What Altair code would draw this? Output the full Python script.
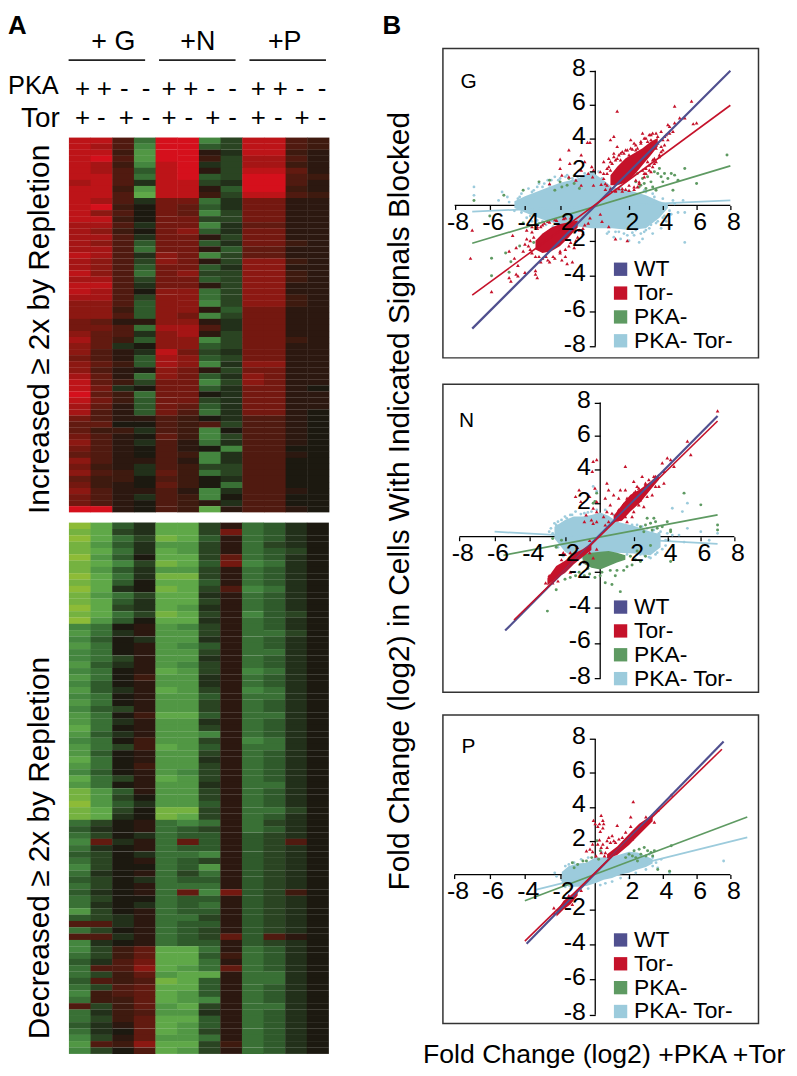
import altair as alt
import pandas as pd

W, H = 786, 1066
FONT = "Liberation Sans"
SERIES = ["WT", "Tor-", "PKA-", "PKA- Tor-"]
COLORS = ["#50508f", "#c5122a", "#5e9a62", "#9ccbdc"]

heat_up = [
"883d99eb8832","873e99cb8832","882f991a8821","893f992b7731","872e89ab7721","873c891b8841",
"883d89cb9932","783a88ba9931","882f881c9921","883g882b8832","873a55da5511","892054ca5511",
"863054eb5511","882055bb5511","773a55ea4411","762056ca5511","773a551b5511","763c55ca5521",
"773d551c4411","873a65eb4411","763b651b6621","763c55ca6611","863d56bb6621","773b55cb6621",
"883a551b6611","873066db6611","773b66db6621","663c66eb6621","662c661c5511","663c65eb5511",
"5411661a5511","553d773a5511","643a671b5511","742c66eb5521","64a066cb5511","631a85ba5511",
"531c76cb5511","642c76ea6611","6310651b5511","741d65ca6511","842b55eb6511","85a055ca5510",
"942d550a5511","852c55ba5511","741c54ca5511","731c53da5510","5311320a3310","4400323b3310",
"422a32e03310","531042eb3310","631a31da3310","5310310e3300","431032ea3310","631131ea3300",
"521a32bb3300","632a42db3300","4220320a3300","5210420d3300","631131ea3310","531a32e03300",
"5310321a3300","991032g13310",
]

heat_down = [
"igcaggb1dca0","hgbaggb5dca0","igdbhgc1dca0","hfcaffb1dba0","hgdagfb1dcb0","ifc0ggb4dca0",
"hgebhgc5eda0","hfcaffb1dca0","igdahhb1dca0","hgc0ggc1dca0","iga0hgb3eda0","hfdbgga1dca0",
"hgcaggb1dca0","igbagfa1dca0","hgdbhgb1ecb0","ifc0gga1dca0","ed01feb1dca0","fda1ffb1ddb0",
"ec0affa1dca0","fd01fec1dca0","ed01ffb1dda0","edb1ffa1dca0","fca1feb1dca0","ed01gfb1eda0",
"fd02ffa1dca0","ec01ffa1dca0","fca1gfb1eda0","ed01ffc1dda0","fd01ffb1dca0","ecb1ffb1dca0",
"fd02ggc1dda0","fda1ffa1dca0","gd01ffb1dca0","fca1ffe1dca0","ed02ffb1eda0","fdb2gfc1dda0",
"fc01ffb1dca0","gd01ffa1dca0","fd02ffb1dca0","ec01feb1dca0","gdb1gfb1dca0","fd01ffa1dda0",
"hfc1ffb1dca0","hfb0ffb1dca0","ifcaffc1dca0","hgb0hhb1ddb0","hga0hgb1dca0","db01ded1dba0",
"ca01dcb1dca0","db0adcc1cba0","e4a1d4c1cb30","da01dcc1cba0","cb0adde1cba0","db01dcb1cba0",
"eb00dcf1cba0","da01dbd1cba0","cb0adcc1cba0","db01ddd1cba0","ca01d4e5cb20","db00dcc1cba0",
"da0adcd1cba0","fb01dcc1cba0","cba1ddb1cba0","33a1dcc1cba0","db01dcb1cba0","33a1dcb4c310",
"ea01dcc1cba0","eb24ggd1dca0","db24ggc2dca0","ca35ggd1dca0","d336gfd4dca0","db24fgg1dda0",
"c323hgc1dda0","db34ggc1dca0","e234gfc1dca0","d224gfe1dca0","3b24fgb1dda0","da23ffa1dca0",
"db24ggc1dca0","ca14gfc1dca0","da04gfb1dca0","eb14ffd1dca0","f326ggb2dca0","eb03gfb1dca0",
]

lines_G = {"WT":[(-7,-7),(8,8)],"Tor-":[(-7,-5.1),(8,5.95)],"PKA-":[(-7,-2.15),(8,2.35)],"PKA- Tor-":[(-7,-0.35),(8,0.3)]}
lines_N = {"WT":[(-5.4,-5.3),(7,7.2)],"Tor-":[(-4.9,-4.7),(7,6.9)],"PKA-":[(-5.5,-1.05),(7,1.3)],"PKA- Tor-":[(-6,0.3),(7,-0.4)]}
lines_P = {"WT":[(-3.9,-3.95),(7.6,7.85)],"Tor-":[(-4,-3.8),(7.5,7.4)],"PKA-":[(-4,-1.5),(9,3.4)],"PKA- Tor-":[(-3.4,-0.87),(9,2.2)]}

blue_core_G = [(-4.6,-.15,.25),(-4,-.4,.55),(-3,-.8,.95),(-2,-1.1,1.35),(-1,-1.2,1.6),(-.2,-1.3,2),(.5,-1.3,1.5),(1,-1.3,1.1),(2,-1.4,.9),(3,-1.3,.6),(3.8,-.7,.25),(4.3,-.15,.1)]
red_core_G = [[(.9,1.2,1.8),(1.3,1.2,2.3),(1.8,1.35,2.8),(2.3,1.8,3.1),(2.8,2.4,3.4),(3.3,3,3.8),(3.7,3.5,4)],
              [(-3.4,-2.5,-2),(-3,-2.7,-1.6),(-2.5,-2.6,-1.25),(-2,-2.3,-1.05),(-1.5,-1.8,-.95),(-1,-1.25,-.85)]]
red_G = [(-.44,3.75),(-.3,3.75),(-1.5,3.3),(-.8,3),(-2,2.75),(-1.45,2.5),(-.6,2.6),(-.2,2.3),(-.1,2.1),(-.8,2.1),(-1.9,1.8),(-2,2.2),(-1.5,1.7),(-1.1,1.5),(-.4,1.9),(-.15,1.7),(-2.6,1.3),(-.1,1.2),(-.8,1.2),
(1.1,4.1),(2.1,3.9),(3.2,4.2),(4.3,4.8),(5.8,4.85),(4.7,4.9),(1.3,5.6),(4.7,5.9),(5.7,6.2),(6,4.9),(5,5.2),(4.4,4.7),(4.6,4.4),(5.3,5.2),(.9,3.9),(2.8,4.3),(2.9,4),(3.3,3.9),(3.4,4.3),(3.6,3.4),(3.9,3.5),(4.1,3.6),(3.7,4.1),(4.2,4.2),(2.3,3.7),(1.9,3.3),(1.4,3),(1.1,3.1),(.8,2.8),(.5,2.6),(.7,2.2),(.3,2),(.5,1.6),(.35,1.25),(1,2.5),(1.3,3.5),(2.5,3.4),(2,3),(1.3,2.8),(3,3.4),(3.2,2.4),(3.5,2.8),(3.8,3),(3.3,2),(2.9,1.9),(2.6,1.4),(2.3,.95),(1.8,.95),(1.2,.9),(1.6,1),(3,2.2),(3.6,2.6),(.6,.95),(.9,1),(2.7,3.7),(2.2,3.35),(1.7,3.1),(1.5,2.7),(.9,2.1),(.6,1.3),(4,3.9),(3.4,2.7),(3.1,2.6),(2.8,2.1),(2.4,1.5),(2,1.2),(1.4,1),(4.4,4.3),(3.9,3.2),
(.7,1.9),(.9,2.6),(1.2,2.7),(1.5,3.1),(1.8,3.3),(2.1,3.4),(2.4,3.6),(2.7,3.8),(3,4),(3.3,4.2),(3.6,4.3),(3.9,4.4),(4.1,4.1),(4.3,3.9),(4,3.3),(3.8,2.9),(3.5,2.5),(3.2,2.1),(2.9,1.7),(2.6,1.3),(2.3,1.1),(2,.9),(1.6,.85),(1.2,.85),(.9,.9),(.7,1.2),(.5,1.9),(.8,2.3),(1.1,2.9),(1.6,3.2),(2.4,3.3),(3.1,3.8),(3.7,3.7),(3.4,2.3),(3,1.9),(2.5,1.1),
(-3.7,-2),(-4.7,-1.7),(-4.5,-2.4),(-4.9,-2.6),(-4.6,-3),(-4.4,-3.4),(-4,-3.8),(-3.4,-3.9),(-3.4,-3.7),(-4.5,-3.9),(-7.1,-3),(-7,-1.4),(-5.9,-4.9),(-4.9,-4.1),(-4.8,-4.3),(-4.4,-4),(-3.3,-4.1),(-1.9,-3.1),(-1.3,-3.2),(-1.7,-2.9),(-2.6,-3.2),(-1.6,-3.3),(-3.6,-1.2),(-3.9,-1.4),(-3.3,-1.2),(-2.9,-1),(-3.1,-3.2),(-2.4,-2.9),(-2.8,-2.9),(-2,-2.6),(-1.5,-2.3),(-1.1,-2),(-.7,-1.6),(-.9,-1.4),(-.4,-1),(-.3,-.7),(.3,-.5),(.4,-.9),(1.2,-1.9),(.8,-1.2),(-3.6,-2.7),(-3.5,-1.8),(-3.8,-2.3),(-3.2,-2.9),(-2.7,-.9),(-2.3,-.8),(-1.7,-.7),(-3.1,-1.2),(-1.2,-2.4),(-.6,-1.1),(-4.1,-2.6),(1.9,-2),
(-4,-2.2),(-3.9,-1.9),(-3.6,-1.5),(-3.3,-1.3),(-3,-1.1),(-2.6,-.95),(-2.2,-.85),(-1.8,-.75),(-1.4,-.7),(-3.7,-2.5),(-3.4,-2.9),(-3,-3),(-2.7,-3.1),(-2.3,-3),(-2,-2.7),(-1.7,-2.5),(-1.4,-2.1),(-1,-1.8),(-.7,-1.3)]
green_G = [(3.7,1.9),(3.9,1.7),(4.1,1.9),(4.3,1.6),(4.5,1.9),(4.7,1.8),(4.9,1.5),(5.3,2.2),(3.5,2),(3.8,2.2),(4,1.4),(2.5,1.9),(2.8,1.6),(2.9,1.3),(3.1,1.7),(3.3,1.4),(2.7,1.2),(3,1),(3.4,1.1),(2.4,1.4),(2.6,1.1),(3.6,.9),(7.8,3),(6,1.3),(4.6,.9),(-6.9,.3),(-5.2,.6),(-4.1,.9),(-3.2,1.4),(-1.6,1.2),(-1.2,1.3),(-.9,1),(-2.3,.9),(-5.9,-4),(-4.9,-3.8),(-4.8,-3.2),(-5.1,-2.7),(-4.3,-2.3),(-3.5,-2.1),(-2.6,1.5),(-2,1.4),(-1.5,1.6),(-1.9,1.1),(-5.9,-3),(-6,-.6),(-4.1,-1)]
blue_G = [(-6.9,1.1),(-6.9,.6),(-5.5,.3),(-5.3,.8),(-4.2,.7),(-3.8,1),(-3.5,.9),(-3.2,1.3),(-3,1.1),(-2.7,1.5),(-2.3,1.7),(-2,1.6),(-1.6,1.8),(-4.4,.4),(-4.9,.2),(-4.6,-.3),(-4.2,-.4),(-3.9,-.7),(-3.6,-.9),(-3.2,-1),(2.3,-1.7),(2.7,-1.6),(3,-1.4),(3.3,-1.1),(3.7,-.9),(4.1,-.6),(4.5,-.5),(4.9,-.4),(5.3,-.4),(5.3,-2.1),(2.6,-2.1),(2.8,-1.9),(1.5,-1.9),(2,-2),(1.1,-1.8),(3.4,-1.6),(3.9,-1.3),(4.2,-.9),(2.9,.9),(3.5,.5),(4,.4),(4.6,.3),(5.2,.3),(1.9,-1.7),(.7,-1.6),(1.4,-1.5),(2.4,-1.4),(-1,1.7),(-.6,1.9),(-1.3,1.6),(-2.6,1.2),(-3.4,.6),(-4,.2),(-5,.5),(-3,-.9),(4.7,.1),(.4,1.6),(.2,2),
(-3.6,.8),(-3.3,1.1),(-2.9,1.3),(-2.5,1.5),(-2.1,1.5),(-1.7,1.7),(-1.2,1.8),(-4.3,.5),(-3.7,-.6),(-3.3,-.85),(-2.8,-1.1),(-2.4,-1.2),(.8,-1.5),(1.2,-1.5),(1.7,-1.6),(2.2,-1.55),(2.9,-1.5),(3.2,-1.3),(3.6,-1),(4,-.7),(3.4,.7),(3,.8),(4.4,-.3),(1.5,1.1)]

blue_core_N = [(-2.6,-.1,.6),(-2,-.85,1),(-1.5,-1.15,1.2),(-1,-1.25,1.2),(-.5,-1.2,1.3),(0,-1,1.45),(.5,-.9,1.25),(1,-.9,.9),(2,-.95,.65),(3,-1.05,.3),(3.6,-.6,.15)]
green_core_N = [[(-1,-1.5,-1),(-.5,-1.75,-.9),(0,-1.85,-.85),(.5,-1.65,-.8),(1,-1.45,-.9),(1.5,-1.3,-1.05)]]
red_core_N = [[(.8,.9,1.25),(1.3,.95,1.9),(1.8,1.5,2.5),(2.4,2.05,2.85),(3,2.8,3.3),(3.5,3.4,3.75)],
              [(-3,-2.75,-2.35),(-2.5,-2.35,-1.65),(-2,-2.05,-1.35),(-1.5,-1.55,-.95),(-1,-1.15,-.7),(-.5,-.75,-.35)]]
red_N = [(7,7.5),(5.2,5.7),(5.4,4.9),(4,4.7),(4.2,4.6),(3.7,4.4),(4.4,4.2),(3.8,3.9),(-.4,4.5),(-.45,3.9),(-.2,4.6),(.4,3.2),(1.5,4.2),(2.5,3.6),(2.7,3.2),(2.2,3),(2,3.3),(1.5,2.8),(1.2,2.8),(.5,2.8),(.8,2.5),(.3,2.3),(.6,1.9),(1.1,2.3),(.4,1.5),(.2,1.2),(.7,1.4),(1.1,1.6),(.5,.9),(.3,.7),(1.6,.9),(1.9,1.2),(2.6,1.8),(3.1,2.5),(3.5,3),(3.3,3.6),(2.9,3.4),(2.1,2.7),(1.6,2.3),(2.4,2.2),(3.8,3.2),(1,1),(-1.2,2.8),(-1.4,2.4),(-1.1,2.1),(-.6,2.4),(-.3,2.9),(-.2,2.1),(-.4,1.7),(-.8,1.3),(-.5,1),(-.2,1.5),(-.9,.9),(-.4,.8),(-.2,.9),(-3.1,-2.6),(-2.9,-2.2),(-2.7,-2.6),(-2.4,-2.5),(-2,-1),(-2.1,-.9),(-1.7,-.9),(-1.3,-.6),(-.6,-.2),(-.2,-.7),(-.9,-1.4),(-1.7,-2),(-2.2,-1.3),(-.4,-1.2),(-.6,-.9),
(1,1.25),(1.4,1.95),(1.7,2.2),(2,2.6),(2.3,2.9),(2.7,3.1),(3.2,3.6),(2,1.5),(2.3,1.9),(2.8,2.4),(3.3,3),(1.5,1.2)]
green_N = [(-2.5,-2.2),(-2.2,-2),(-2,-2.4),(-1.7,-2.3),(-1.4,-2.2),(-1.2,-2),(-.9,-2.2),(-.6,-2.1),(-.3,-2.3),(0,-2.2),(.3,-2.6),(.7,-2.7),(.9,-2.2),(1,-1.9),(1.4,-1.9),(1.6,-1.7),(1.9,-1.6),(2.1,-1.3),(2.4,-1.4),(2.7,-1.1),(2.2,-.8),(3,-.5),(2.4,.6),(2.7,.7),(3,.8),(3.3,.9),(3.4,.5),(3.7,.6),(4,.9),(4.2,.4),(3.2,1.1),(2.8,1.1),(3.1,.4),(2.6,.3),(5,2.6),(4.2,.3),(6,1.9),(7,.7),(7,.4),(-3,-4.2),(-2.5,-3),(-.4,2),(-.2,2.6),(-2.2,-.2),(-2.5,-.6),(-2.7,-.1),(1.8,-1.1),(1.2,-1.2),(.6,-1.9),(.1,-2),(-.7,-1.8),(4.2,-1.4),(1.2,-3.1),(-.3,2.1)]
blue_N = [(-2.6,.8),(-2.5,.7),(-2.2,1),(-2,1.2),(-1.7,1.3),(-1.4,1.5),(-1.9,1.1),(-.9,1.4),(-.5,1.5),(-.2,1.6),(-.2,2.7),(-.4,3),(-2.9,.3),(-2.8,.5),(-2.4,-.6),(-2.1,-1.1),(2.2,.7),(2.8,.5),(3.2,.4),(3.6,.3),(4,.2),(4.3,.1),(4.1,-.2),(3.9,-.5),(3.4,-.9),(3,-1.2),(2.6,-1),(3.5,-.2),(5,-.3),(5.2,.5),(6,.3),(5.2,2),(4.9,1.5),(4.3,1.7),(7,.2),(6.5,-.2),(4.7,.1),(1.9,.7),(1.2,1),(.8,1.3),(.3,1.6),
(-2.7,.2),(-2.4,.9),(-1.6,1.3),(-1.1,1.35),(-.7,1.45),(2.4,-1),(2.9,-1.15),(3.3,-1),(3.7,-.7),(3.9,-.2),(1.6,-1),(1.2,-1.05),(2.5,.6),(3.1,.3),(3.5,.2)]

blue_core_P = [(-1.9,-.5,.15),(-1.5,-.7,.5),(-1,-.7,.65),(-.5,-.65,.7),(0,-.5,1),(.5,-.3,1),(1,-.2,1.05),(1.5,0,1.2),(2,.1,1.35),(2.5,.3,1.3),(3,.45,1.1),(3.4,.65,.9)]
red_core_P = [[(.7,.95,1.2),(1.3,1.15,1.65),(2,1.75,2.4),(2.6,2.35,3),(3.4,3.15,3.55)],
              [(-2.2,-2.4,-2.1),(-1.8,-2,-1.5),(-1.4,-1.7,-1.2),(-1,-1.2,-.9)]]
red_P = [(-.1,3.2),(0,3),(.35,3.5),(.45,3.2),(.25,3),(.5,3),(.15,2.85),(.45,2.75),(.3,2.55),(2.25,4.3),(2.1,3.4),(2.1,2.85),(1.3,2.9),(.8,2.2),(1,2.3),(1.1,2),(.9,1.9),(1.2,1.9),(.7,2),(.25,2.05),(.45,1.8),(.15,1.8),(.35,1.6),(-.15,1.8),(-.3,1.5),(-.5,1.4),(-.15,1.35),(.35,1.3),(.6,1.3),(.7,1.6),(.55,1.1),(.05,1.1),(1.4,2.1),(1.6,2.2),(1.8,2.5),(1.5,1.6),(2.2,2.1),(3,3.4),(3.5,3.1),(3.7,3.8),(4.5,4.7),(-2.3,-2.2),(-2.35,-1.9),(-1.5,-1.2),(-.8,-.9),(-1.3,-1.7)]
green_P = [(2,1.2),(2.2,1.1),(2.4,1),(2.3,1.4),(2.6,1.5),(2.9,1.6),(3.1,1.4),(3.3,1.3),(2.7,1.2),(3,1.1),(3.4,1.1),(3.5,1.4),(4.4,.2),(4.5,1.7),(.2,.9),(-.5,.8),(-.7,.8),(-1,.6),(-1.3,.7),(-1.2,.4),(-.2,1),(.1,2),(.3,1.4),(1.8,1),(2.5,.8),(3.7,.3)]
blue_P = [(-2.3,.1),(-2.2,-.1),(-1.7,.5),(-1.5,.6),(-1.2,.7),(-.8,.9),(-.4,1),(-1.9,-.3),(-1.7,-.7),(-1.4,-.8),(-1,-.9),(-.4,-.8),(.3,-.6),(.6,-.5),(1,-.4),(1.5,-.2),(2,-.2),(2.4,.1),(3,.3),(3.4,.5),(3.7,.4),(3.4,1),(3.2,1.2),(3.6,.7),(3.9,.9),(7.6,.8),(4.4,.1),(.9,1.2),(.4,1.3)]


def decode(ch):
    if ch.isdigit():
        return int(ch) / 9
    return -(ord(ch) - 96) / 9


def cells(rows):
    out = []
    for r, s in enumerate(rows):
        assert len(s) == 12, s
        for c, ch in enumerate(s):
            out.append({"c": c, "c2": c + 1.02, "r": r, "r2": r + 1.03, "v": decode(ch)})
    return pd.DataFrame(out)


def heat(rows, x0, x1, y0, y1):
    xs = alt.Scale(domain=[0, 12], range=[x0 - 8, x1 - 8], nice=False, zero=False)
    ys = alt.Scale(domain=[0, len(rows)], range=[y0 - 8, y1 - 8], nice=False, zero=False)
    cs = alt.Scale(domain=[-1, -7/9, -5/9, -3/9, -1/9, 0, 1/9, 3/9, 5/9, 7/9, 1],
                   range=["#8dbb37", "#5fa848", "#44863f", "#2f5a2b", "#22301a", "#1c1910", "#2c1810", "#501a10", "#741810", "#a51515", "#d5101c"])
    return alt.Chart(cells(rows)).mark_rect().encode(
        x=alt.X("c:Q", scale=xs, axis=None), x2="c2:Q",
        y=alt.Y("r:Q", scale=ys, axis=None), y2="r2:Q",
        color=alt.Color("v:Q", scale=cs, legend=None))


def panel(name, name_xy, frame, xpx, ypx, lines, blue_core, red_core, green_core, red, green, blue, legend_xy):
    fx0, fx1, fy0, fy1 = frame
    xm, x0, xp = [v - 8 for v in xpx]
    yt, y0, yb = [v - 8 for v in ypx]
    fx0 -= 8; fx1 -= 8; fy0 -= 8; fy1 -= 8
    xlo = -8 - (xm - fx0) / ((x0 - xm) / 8)
    xhi = 8 + (fx1 - xp) / ((xp - x0) / 8)
    yhi = 8 + (yt - fy0) / ((y0 - yt) / 8)
    ylo = -8 - (fy1 - yb) / ((yb - y0) / 8)
    xs = alt.Scale(domain=[xlo, -8, 0, 8, xhi], range=[fx0, xm, x0, xp, fx1], nice=False, zero=False)
    ys = alt.Scale(domain=[yhi, 8, 0, -8, ylo], range=[fy0, yt, y0, yb, fy1], nice=False, zero=False)
    X = alt.X("x:Q", scale=xs, axis=None)
    Y = alt.Y("y:Q", scale=ys, axis=None)
    cscale = alt.Scale(domain=SERIES, range=COLORS)
    ticks = [-8, -6, -4, -2, 2, 4, 6, 8]
    layers = []
    layers.append(alt.Chart(pd.DataFrame([{"x": xlo, "x2": xhi, "y": ylo, "y2": yhi}])).mark_rect(
        fill="white", stroke="#333333", strokeWidth=1.5).encode(x=X, x2="x2:Q", y=Y, y2="y2:Q"))
    layers.append(alt.Chart(pd.DataFrame([{"x": -8, "x2": 8, "y": 0}])).mark_rule(color="black", strokeWidth=1.3).encode(x=X, x2="x2:Q", y=Y))
    layers.append(alt.Chart(pd.DataFrame([{"x": 0, "y": -8, "y2": 8}])).mark_rule(color="black", strokeWidth=1.3).encode(x=X, y=Y, y2="y2:Q"))

    def area(rows, s):
        df = pd.DataFrame(rows, columns=["x", "lo", "hi"])
        return alt.Chart(df).mark_area(color=COLORS[SERIES.index(s)], interpolate="linear", orient="vertical").encode(
            x=X, y=alt.Y("lo:Q", scale=ys, axis=None), y2="hi:Q")

    def dots(pairs, s, shape, size, legend=None):
        df = pd.DataFrame(pairs, columns=["x", "y"]).assign(series=s)
        return alt.Chart(df).mark_point(filled=True, shape=shape, size=size, opacity=1).encode(
            x=X, y=Y, color=alt.Color("series:N", scale=cscale, legend=legend))

    leg = alt.Legend(title=None, orient="none", legendX=legend_xy[0], legendY=legend_xy[1], symbolType="square",
                     symbolSize=180, symbolStrokeWidth=0, symbolOpacity=1, labelFont=FONT, labelFontSize=23,
                     labelColor="black", labelOffset=2, rowPadding=0, labelLimit=200, values=SERIES)
    layers.append(area(blue_core, "PKA- Tor-"))
    layers.append(dots(blue, "PKA- Tor-", "circle", 8, leg))
    for c in green_core:
        layers.append(area(c, "PKA-"))
    layers.append(dots(green, "PKA-", "circle", 9))
    for c in red_core:
        layers.append(area(c, "Tor-"))
    layers.append(dots(red, "Tor-", "triangle-up", 14))
    for s, w in [("PKA- Tor-", 1.8), ("PKA-", 1.7), ("WT", 2.2), ("Tor-", 1.6)]:
        df = pd.DataFrame(lines[s], columns=["x", "y"]).assign(series=s)
        layers.append(alt.Chart(df).mark_line(strokeWidth=w).encode(
            x=X, y=Y, color=alt.Color("series:N", scale=cscale, legend=None)))
    layers.append(alt.Chart(pd.DataFrame([{"x": name_xy[0], "y": name_xy[1], "t": name}])).mark_text(
        font=FONT, fontSize=21, color="black").encode(x=X, y=Y, text="t:N"))
    # tick marks and tick labels through the real axes, in a layer of their own
    ax = alt.Chart(pd.DataFrame({"x": [0], "y": [0]})).mark_point(opacity=0).encode(
        x=alt.X("x:Q", scale=xs, axis=alt.Axis(orient="bottom", offset=y0 - H, values=ticks, title=None, domain=False, grid=False,
                 tickSize=4, tickColor="black", labelFont=FONT, labelFontSize=25, labelColor="black", labelPadding=0,
                 labelOffset=3, labelOverlap=False, labelFlush=False, labelBound=False, zindex=1, labelExpr="'' + datum.value")),
        y=alt.Y("y:Q", scale=ys, axis=alt.Axis(orient="left", offset=-x0, values=ticks, title=None, domain=False, grid=False,
                 tickSize=6, tickColor="black", labelFont=FONT, labelFontSize=25, labelColor="black", labelPadding=4,
                 labelOffset=-3, labelOverlap=False, labelFlush=False, labelBound=False, zindex=1, labelExpr="'' + datum.value")))
    return alt.layer(*layers), ax


def text(s, x, y, size, angle=0, align="center", bold=False):
    return alt.Chart(pd.DataFrame({"a": [0]})).mark_text(
        text=s, font=FONT, fontSize=size, angle=angle, align=align, baseline="alphabetic",
        fontWeight="bold" if bold else "normal", color="black").encode(x=alt.value(x - 8), y=alt.value(y - 8))


def rule(x0, x1, y):
    return alt.Chart(pd.DataFrame({"a": [0]})).mark_rule(color="#222222", strokeWidth=1.8).encode(
        x=alt.value(x0 - 8), x2=alt.value(x1 - 8), y=alt.value(y - 8))


notes = [
    text("A", 8, 31, 26, align="left", bold=True), text("B", 385, 31, 26, align="left", bold=True),
    text("+ G", 114, 46.5, 27), text("+N", 199, 46.5, 27), text("+P", 286.5, 46.5, 27),
    rule(69, 146, 57), rule(160, 237, 57), rule(251, 328, 57),
    text("PKA", 59, 91, 25.5, align="right"), text("Tor", 60, 124, 28, align="right"),
    text("Increased ≥ 2x by Repletion", 49.5, 328, 30, angle=270),
    text("Decreased ≥ 2x by Repletion", 49.5, 850, 30, angle=270),
    text("Fold Change (log2) in Cells With Indicated Signals Blocked", 412, 501, 30, angle=270),
    text("Fold Change (log2) +PKA +Tor", 608, 1066.5, 26.8),
]
pka_x = [83, 105, 125, 147, 170, 192, 212, 234, 260, 282, 302, 324]
tor_x = [83, 102, 127, 147, 170, 190, 214, 234, 260, 280, 304, 324]
for px, sym in zip(pka_x, "++--++--++--"):
    notes.append(text(sym, px, 94.5, 26))
for px, sym in zip(tor_x, "+-+-+-+-+-+-"):
    notes.append(text(sym, px, 123.5, 26))

G, Gax = panel("G", (-7.2, 7.35), (445.7, 763.3, 45.3, 356.7), (457.5, 599, 735), (67.7, 203.3, 345), lines_G,
               blue_core_G, red_core_G, [], red_G, green_G, blue_G, (605, 248))
N, Nax = panel("N", (-7.6, 6.9), (445.7, 763.3, 383.3, 693.3), (462.3, 604, 739), (401.7, 536.7, 679.3), lines_N,
               blue_core_N, red_core_N, green_core_N, red_N, green_N, blue_N, (605, 588))
P, Pax = panel("P", (-7.2, 7.55), (445.7, 763.3, 716, 1026.7), (457.3, 599, 735), (740.3, 876.7, 1017.7), lines_P,
               blue_core_P, red_core_P, [], red_P, green_P, blue_P, (605, 923))

chart = alt.layer(
    heat(heat_up, 69.3, 331, 135, 512),
    heat(heat_down, 69.3, 330.5, 522.5, 1057),
    G, N, P, Gax, Nax, Pax, *notes
).resolve_scale(x="independent", y="independent", color="independent").resolve_axis(
    x="independent", y="independent").resolve_legend(color="independent").properties(
    width=W, height=H, padding=0, autosize=alt.AutoSizeParams(type="none")
).configure_view(stroke=None).configure_axis(tickWidth=1.3)

chart.save("out.html", embed_options={"renderer": "svg", "actions": False})
